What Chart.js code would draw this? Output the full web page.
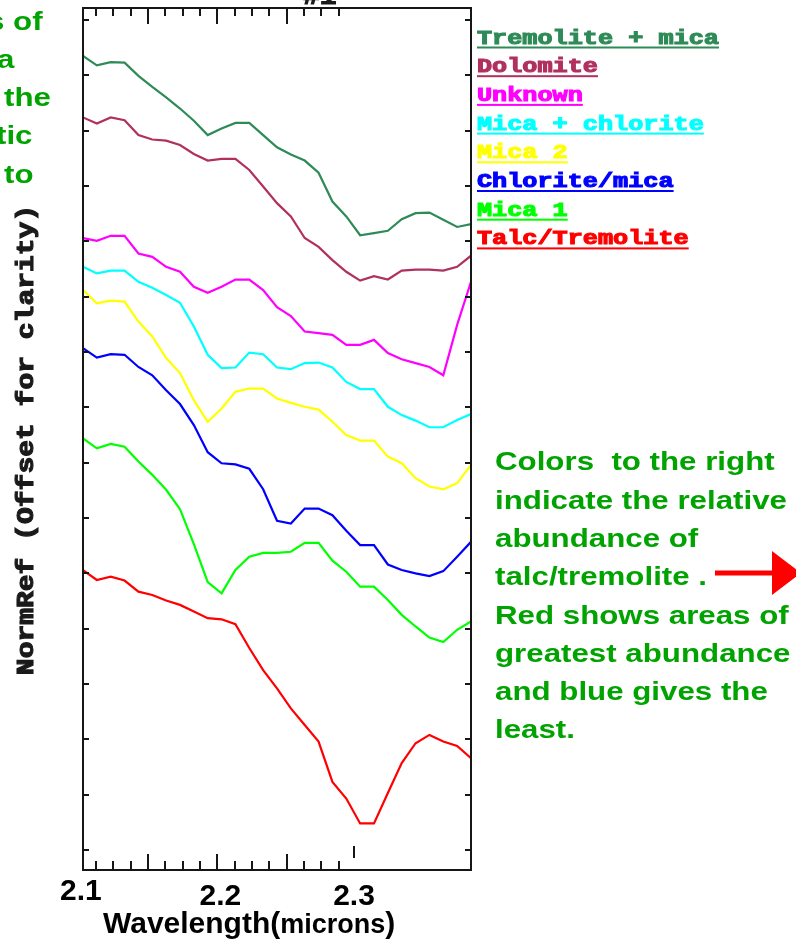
<!DOCTYPE html>
<html>
<head>
<meta charset="utf-8">
<script src="https://cdn.jsdelivr.net/npm/chart.js@4.4.1/dist/chart.umd.min.js"></script>
<style>
html, body { margin: 0; padding: 0; background: #fff; }
#wrap { position: relative; width: 796px; height: 941px; overflow: hidden; }
#c { position: absolute; left: 0; top: 0; }
.note {
  position: absolute;
  font-family: "Liberation Sans", Arial, sans-serif;
  font-weight: bold;
  color: #00a300;
  font-size: 26.5px;
  line-height: 38.3px;
  white-space: pre;
  transform: scaleX(1.18);
  transform-origin: 0 0;
}
</style>
</head>
<body>
<div id="wrap">
  <canvas id="c" width="796" height="941"></canvas>
  <div class="note" style="left:-13px;top:2.4px">s of</div>
  <div class="note" style="left:-3px;top:40.2px">a</div>
  <div class="note" style="left:4px;top:78.4px">the</div>
  <div class="note" style="left:-4px;top:116.4px">tic</div>
  <div class="note" style="left:4px;top:154.7px">to</div>
  <div class="note" style="left:495px;top:442.4px">Colors  to the right
indicate the relative
abundance of
talc/tremolite .
Red shows areas of
greatest abundance
and blue gives the
least.</div>
</div>
<script>
// Band centres (microns) shared by every spectrum
const wavelengths = [2.103, 2.113, 2.123, 2.133, 2.143, 2.153, 2.163, 2.173, 2.183, 2.193,
                     2.203, 2.213, 2.223, 2.233, 2.243, 2.253, 2.263, 2.273, 2.283, 2.293,
                     2.303, 2.313, 2.323, 2.333, 2.343, 2.353, 2.363, 2.373, 2.383];

// Normalised reflectance, each spectrum offset vertically
const tremoliteMica = [1.435, 1.418, 1.424, 1.423, 1.399, 1.379, 1.360, 1.340, 1.318, 1.292,
                       1.304, 1.314, 1.314, 1.292, 1.270, 1.257, 1.246, 1.224, 1.172, 1.145,
                       1.111, 1.115, 1.119, 1.140, 1.151, 1.152, 1.139, 1.126, 1.131];
const dolomite = [1.324, 1.313, 1.324, 1.319, 1.292, 1.284, 1.282, 1.274, 1.258, 1.246,
                  1.249, 1.249, 1.229, 1.199, 1.169, 1.145, 1.106, 1.090, 1.066, 1.045,
                  1.029, 1.037, 1.031, 1.047, 1.049, 1.049, 1.047, 1.054, 1.074];
const unknown = [1.106, 1.101, 1.110, 1.110, 1.078, 1.072, 1.054, 1.045, 1.018, 1.007,
                 1.018, 1.031, 1.031, 1.012, 0.981, 0.965, 0.937, 0.934, 0.931, 0.913,
                 0.913, 0.922, 0.898, 0.887, 0.880, 0.873, 0.858, 0.949, 1.027];
const micaChlorite = [1.054, 1.042, 1.047, 1.047, 1.027, 1.016, 1.003, 0.989, 0.946, 0.895,
                      0.871, 0.872, 0.899, 0.896, 0.872, 0.869, 0.880, 0.881, 0.872, 0.846,
                      0.833, 0.833, 0.801, 0.786, 0.776, 0.764, 0.764, 0.777, 0.788];
const mica2 = [1.012, 0.988, 0.993, 0.991, 0.955, 0.928, 0.889, 0.862, 0.813, 0.774,
               0.798, 0.828, 0.834, 0.834, 0.816, 0.808, 0.801, 0.796, 0.774, 0.750,
               0.740, 0.740, 0.711, 0.699, 0.672, 0.657, 0.652, 0.663, 0.696];
const chloriteMica = [0.907, 0.890, 0.896, 0.895, 0.873, 0.858, 0.831, 0.806, 0.768, 0.719,
                      0.699, 0.697, 0.689, 0.652, 0.595, 0.590, 0.617, 0.617, 0.605, 0.577,
                      0.551, 0.551, 0.516, 0.506, 0.500, 0.495, 0.504, 0.530, 0.557];
const mica1 = [0.744, 0.726, 0.734, 0.729, 0.702, 0.678, 0.651, 0.616, 0.553, 0.484,
               0.464, 0.506, 0.530, 0.537, 0.537, 0.539, 0.555, 0.555, 0.523, 0.503,
               0.476, 0.476, 0.452, 0.425, 0.404, 0.384, 0.376, 0.398, 0.413];
const talcTremolite = [0.506, 0.488, 0.494, 0.487, 0.467, 0.461, 0.451, 0.443, 0.431, 0.419,
                       0.417, 0.408, 0.365, 0.325, 0.292, 0.256, 0.226, 0.196, 0.123, 0.093,
                       0.048, 0.048, 0.103, 0.157, 0.193, 0.208, 0.196, 0.188, 0.166];

const seriesLabels = ['Tremolite + mica', 'Dolomite', 'Unknown', 'Mica + chlorite',
                      'Mica 2', 'Chlorite/mica', 'Mica 1', 'Talc/Tremolite'];
const seriesValues = [tremoliteMica, dolomite, unknown, micaChlorite,
                      mica2, chloriteMica, mica1, talcTremolite];
const seriesColors = ['#2e8b57', '#b03060', '#ff00ff', '#00ffff',
                      '#ffff00', '#0000ff', '#00ff00', '#ff0000'];

// Axis tick positions and labels
const yTicks = [0, 0.1, 0.2, 0.3, 0.4, 0.5, 0.6, 0.7, 0.8, 0.9, 1.0, 1.1, 1.2, 1.3, 1.4, 1.5];
const xMinorTicks = [2.1125, 2.125, 2.1375, 2.1625, 2.175, 2.1875,
                     2.2125, 2.225, 2.2375, 2.2625, 2.275, 2.2875];
const xMajorTicks = [2.15, 2.2, 2.25];
const xLabelValues = [2.1, 2.2, 2.3];
const xLabelTexts = ['2.1', '2.2', '2.3'];

const INK = '#161616';

// Heavy, wide mono text in the style of the plot window's font
function monoText(ctx, text, px, py, size, stretch, color, align) {
  ctx.save();
  ctx.translate(px, py);
  ctx.scale(stretch, 1);
  ctx.font = 'bold ' + size + 'px "Liberation Mono", monospace';
  ctx.textAlign = align || 'left';
  ctx.textBaseline = 'alphabetic';
  ctx.fillStyle = color;
  ctx.strokeStyle = color;
  ctx.lineWidth = 1.1;
  ctx.lineJoin = 'miter';
  ctx.fillText(text, 0, 0);
  ctx.strokeText(text, 0, 0);
  const w = ctx.measureText(text).width * stretch;
  ctx.restore();
  return w;
}

// Frame, inward ticks, axis texts, legend and pointer arrow
const decor = {
  id: 'decor',
  afterDatasetsDraw(chart) {
    const { ctx, chartArea: a, scales: { x, y } } = chart;
    ctx.save();

    // plot frame
    ctx.strokeStyle = INK;
    ctx.lineWidth = 2;
    ctx.strokeRect(a.left, a.top, a.right - a.left, a.bottom - a.top);

    // ticks pointing into the plot
    ctx.beginPath();
    yTicks.forEach(v => {
      const py = Math.round(y.getPixelForValue(v));
      ctx.moveTo(a.left, py); ctx.lineTo(a.left + 6, py);
      ctx.moveTo(a.right, py); ctx.lineTo(a.right - 6, py);
    });
    xMinorTicks.forEach(v => {
      const px = Math.round(x.getPixelForValue(v));
      ctx.moveTo(px, a.top); ctx.lineTo(px, a.top + 8);
      ctx.moveTo(px, a.bottom); ctx.lineTo(px, a.bottom - 9);
    });
    xMajorTicks.forEach(v => {
      const px = Math.round(x.getPixelForValue(v));
      ctx.moveTo(px, a.top); ctx.lineTo(px, a.top + 16);
      ctx.moveTo(px, a.bottom); ctx.lineTo(px, a.bottom - 16);
    });
    // small mark above the 2.3 label
    const m = Math.round(x.getPixelForValue(xLabelValues[2])) - 2;
    ctx.moveTo(m, a.bottom - 24); ctx.lineTo(m, a.bottom - 12);
    ctx.stroke();

    // wavelength labels
    ctx.fillStyle = '#000';
    ctx.textAlign = 'center';
    ctx.textBaseline = 'alphabetic';
    ctx.font = 'bold 30px "Liberation Sans", Arial, sans-serif';
    const labelShift = [2, 3, -2];
    const labelBase = [900, 905, 905];
    xLabelValues.forEach((v, i) => {
      ctx.fillText(xLabelTexts[i], x.getPixelForValue(v) + labelShift[i], labelBase[i]);
    });

    // x axis title with smaller unit text
    ctx.textAlign = 'left';
    let tx = 103;
    const big = 'bold 30px "Liberation Sans", Arial, sans-serif';
    const small = 'bold 27px "Liberation Sans", Arial, sans-serif';
    ctx.font = big; ctx.fillText('Wavelength(', tx, 933); tx += ctx.measureText('Wavelength(').width;
    ctx.font = small; ctx.fillText('microns', tx, 933); tx += ctx.measureText('microns').width;
    ctx.font = big; ctx.fillText(')', tx, 933);

    // y axis title, reading upwards
    ctx.save();
    ctx.translate(33, 440);
    ctx.rotate(-Math.PI / 2);
    monoText(ctx, 'NormRef (Offset for clarity)', 0, 0, 23, 1.217, '#1a1a1a', 'center');
    ctx.restore();

    // window title, mostly above the top edge
    monoText(ctx, '#1', 303, 4, 23, 1.217, '#1a1a1a');

    // underlined legend entries
    chart.data.datasets.forEach((ds, i) => {
      const base = 43.5 + i * 28.7;
      const w = monoText(ctx, ds.label, 477, base, 20, 1.26, ds.borderColor);
      ctx.fillStyle = ds.borderColor;
      ctx.fillRect(477, base + 3, w, 2);
    });

    // red pointer arrow
    ctx.strokeStyle = '#ff0000';
    ctx.fillStyle = '#ff0000';
    ctx.lineWidth = 5;
    ctx.beginPath();
    ctx.moveTo(715, 573); ctx.lineTo(776, 573);
    ctx.stroke();
    ctx.beginPath();
    ctx.moveTo(772, 551); ctx.lineTo(801, 573); ctx.lineTo(772, 595);
    ctx.closePath();
    ctx.fill();

    ctx.restore();
  }
};

new Chart(document.getElementById('c'), {
  type: 'line',
  data: {
    datasets: seriesLabels.map((label, i) => ({
      label,
      data: wavelengths.map((w, j) => ({ x: w, y: seriesValues[i][j] })),
      borderColor: seriesColors[i],
      backgroundColor: seriesColors[i],
      borderWidth: 2.2,
      pointRadius: 0,
      tension: 0,
      fill: false
    }))
  },
  options: {
    responsive: false,
    animation: false,
    devicePixelRatio: 1,
    layout: { padding: { left: 83, right: 325, top: 8, bottom: 71 } },
    scales: {
      x: { type: 'linear', min: 2.103, max: 2.383, display: false },
      y: { type: 'linear', min: -0.0361, max: 1.5217, display: false }
    },
    plugins: {
      legend: { display: false },
      tooltip: { enabled: false }
    }
  },
  plugins: [decor]
});
</script>
</body>
</html>
